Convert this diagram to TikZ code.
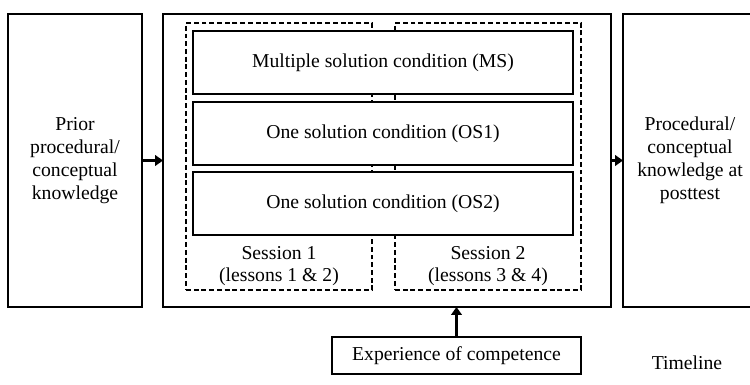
\documentclass[tikz,border=0pt]{standalone}
\usepackage{fontspec}
\setmainfont{Liberation Serif}
\usetikzlibrary{arrows.meta}

\tikzset{
  bigbox/.style={draw,line width=1.3pt,inner sep=0pt,outer sep=0pt,align=center,fill=white},
  condbox/.style={draw,line width=0.9pt,inner sep=0pt,outer sep=0pt,fill=white,minimum width=7.6cm,minimum height=1.26cm},
  sessbox/.style={draw,dash pattern=on 2.8pt off 1.6pt,line width=0.6pt,inner sep=0pt,outer sep=0pt,minimum width=3.72cm,minimum height=5.34cm},
  flow/.style={line width=1.3pt,-{Triangle[length=4.5pt,width=6pt]}}
}

\begin{document}
\begin{tikzpicture}[x=0.02cm,y=-0.02cm,font=\fontsize{11.2}{13}\selectfont]
\useasboundingbox (0,0) rectangle (750,385);
\clip (0,0) rectangle (750,385);
\node[bigbox,minimum width=2.68cm,minimum height=5.86cm] (prior) at (75,160.5) {Prior\\procedural/\\conceptual\\knowledge};
\node[bigbox,minimum width=8.96cm,minimum height=5.86cm] (main) at (387,160.5) {};
\node[bigbox,minimum width=2.68cm,minimum height=5.86cm] (post) at (690,160.5) {Procedural/\\conceptual\\knowledge at\\posttest};
% sessions
\node[sessbox] (sess1) at (279,156.5) {};
\node[sessbox] (sess2) at (488,156.5) {};
\node[align=center] (lab1) at (279,266) {Session 1\\(lessons 1 \& 2)};
\node[align=center] (lab2) at (488,266) {Session 2\\(lessons 3 \& 4)};
% conditions
\node[condbox] (ms) at (383,62.5) {Multiple solution condition (MS)};
\node[condbox] (os1) at (383,133.5) {One solution condition (OS1)};
\node[condbox] (os2) at (383,203.5) {One solution condition (OS2)};
\node[draw,line width=0.9pt,inner sep=0pt,minimum width=4.98cm,minimum height=0.74cm] (exp) at (456.5,355.5) {Experience of competence};
\node (time) at (687,363) {Timeline};
\draw[flow] (prior) -- (main);
\draw[flow] (main) -- (post);
\draw[flow] (exp) -- (exp |- main.south);
\end{tikzpicture}
\end{document}
